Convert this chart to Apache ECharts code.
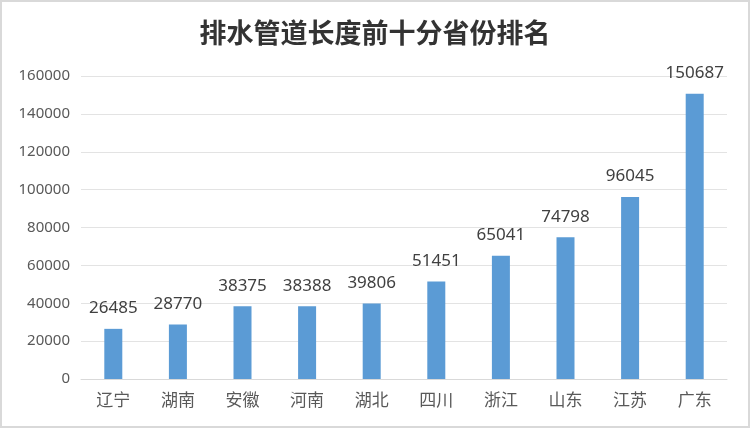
<!DOCTYPE html>
<html>
<head>
<meta charset="utf-8">
<script src="https://cdn.jsdelivr.net/npm/echarts@6/dist/echarts.min.js"></script>
<style>
  html, body { margin: 0; padding: 0; background: #fff; }
  #main { width: 746px; height: 424px; border: 2px solid #d9d9d9; }
</style>
</head>
<body>
<div id="main"></div>
<script>
// 省份和管道长度
var provinces = ['辽宁', '湖南', '安徽', '河南', '湖北', '四川', '浙江', '山东', '江苏', '广东'];
var lengths = [26485, 28770, 38375, 38388, 39806, 51451, 65041, 74798, 96045, 150687];

var myChart = echarts.init(document.getElementById('main'));

var option = {
  animation: false,
  title: {
    text: '排水管道长度前十分省份排名',
    left: 'center',
    top: 12,
    textStyle: {
      fontFamily: 'Noto Sans CJK SC',
      fontSize: 27,
      fontWeight: 'bold',
      color: '#333333'
    }
  },
  grid: {
    left: 79,
    right: 21,
    top: 74,
    bottom: 47
  },
  xAxis: {
    type: 'category',
    data: provinces,
    axisTick: { show: false },
    axisLine: { lineStyle: { color: '#d9d9d9' } },
    axisLabel: {
      color: '#595959',
      fontSize: 17,
      margin: 12,
      fontFamily: 'Noto Sans CJK SC'
    }
  },
  yAxis: {
    type: 'value',
    min: 0,
    max: 160000,
    interval: 20000,
    axisLine: { show: false },
    axisTick: { show: false },
    axisLabel: {
      color: '#595959',
      fontSize: 15,
      margin: 11,
      fontFamily: 'Noto Sans',
      formatter: function (v) { return String(v); }
    },
    splitLine: { lineStyle: { color: '#e3e3e3' } }
  },
  series: [
    {
      type: 'bar',
      data: lengths,
      barWidth: 18,
      itemStyle: { color: '#5b9bd5' },
      label: {
        show: true,
        position: 'top',
        distance: 12,
        color: '#404040',
        fontSize: 17,
        fontFamily: 'Noto Sans'
      }
    }
  ]
};

myChart.setOption(option);
</script>
</body>
</html>
